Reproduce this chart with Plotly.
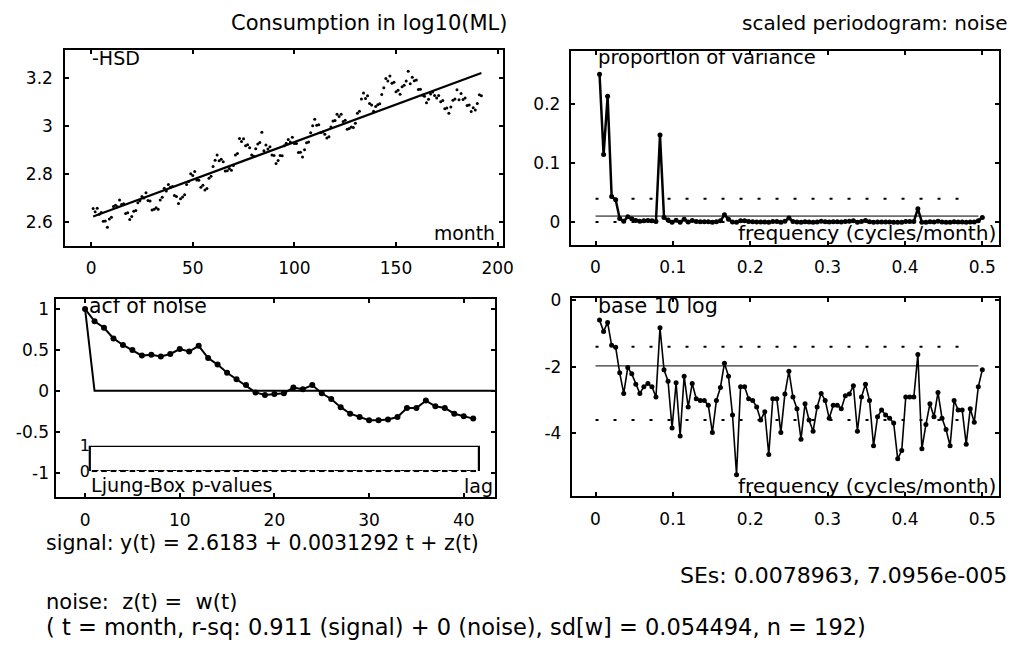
import plotly.graph_objects as go

W, H = 1020, 648

# ---------------- data ----------------
months = list(range(1, 193))
consumption = [
    2.655, 2.641, 2.656, 2.631, 2.638, 2.602, 2.603, 2.577, 2.611, 2.618, 2.663, 2.668,
    2.662, 2.690, 2.671, 2.674, 2.634, 2.637, 2.609, 2.621, 2.643, 2.646, 2.679, 2.687,
    2.705, 2.698, 2.720, 2.688, 2.686, 2.648, 2.651, 2.658, 2.651, 2.690, 2.702, 2.739,
    2.728, 2.755, 2.743, 2.746, 2.709, 2.705, 2.675, 2.695, 2.703, 2.712, 2.755, 2.767,
    2.799, 2.792, 2.809, 2.773, 2.772, 2.743, 2.751, 2.732, 2.738, 2.781, 2.789, 2.830,
    2.856, 2.878, 2.854, 2.860, 2.849, 2.811, 2.812, 2.821, 2.814, 2.834, 2.878, 2.884,
    2.946, 2.934, 2.945, 2.916, 2.920, 2.908, 2.878, 2.872, 2.904, 2.923, 2.930, 2.972,
    2.895, 2.919, 2.903, 2.912, 2.878, 2.875, 2.842, 2.855, 2.875, 2.874, 2.916, 2.926,
    2.942, 2.932, 2.951, 2.925, 2.925, 2.888, 2.889, 2.869, 2.899, 2.929, 2.932, 2.970,
    2.999, 3.026, 3.001, 3.004, 2.971, 2.973, 2.964, 2.948, 2.954, 2.994, 3.019, 3.021,
    3.047, 3.038, 3.047, 3.017, 3.022, 2.985, 2.988, 2.994, 2.992, 3.010, 3.051, 3.060,
    3.111, 3.136, 3.113, 3.124, 3.092, 3.086, 3.060, 3.080, 3.087, 3.091, 3.130, 3.158,
    3.196, 3.186, 3.207, 3.177, 3.181, 3.141, 3.147, 3.131, 3.162, 3.168, 3.186, 3.226,
    3.174, 3.202, 3.187, 3.190, 3.150, 3.152, 3.126, 3.122, 3.095, 3.110, 3.132, 3.140,
    3.125, 3.115, 3.125, 3.099, 3.105, 3.070, 3.073, 3.051, 3.078, 3.106, 3.111, 3.149,
    3.108, 3.134, 3.109, 3.115, 3.084, 3.086, 3.059, 3.074, 3.065, 3.092, 3.129, 3.124,
]
fit_intercept = 2.6183
fit_slope = 0.0031292
fit_months = [1, 192]

# periodogram of the noise (base-10 log of proportion of variance), k/192 cycles/month
harmonics = list(range(1, 97))
log_pgram = [
    -0.60, -0.94, -0.67, -1.36, -1.42, -2.19, -2.81, -2.03, -2.22, -2.53, -2.81, -2.61,
    -2.51, -2.61, -2.92, -0.83, -2.10, -2.44, -3.85, -2.49, -4.09, -2.29, -3.22, -2.51,
    -2.97, -3.02, -3.02, -3.17, -3.99, -3.02, -2.63, -1.90, -2.29, -3.46, -5.26, -2.61,
    -2.61, -2.97, -3.02, -3.22, -3.61, -3.36, -4.65, -2.97, -2.97, -3.99, -2.83, -2.14,
    -2.92, -3.27, -4.19, -3.12, -3.61, -3.95, -3.22, -2.81, -3.02, -3.56, -3.17, -3.17,
    -3.27, -2.88, -2.83, -2.58, -3.95, -2.92, -2.53, -3.02, -4.39, -3.51, -3.31, -3.46,
    -3.56, -3.70, -4.78, -4.53, -2.92, -2.92, -2.92, -1.64, -4.48, -3.75, -3.12, -3.51,
    -2.78, -3.56, -3.90, -4.39, -3.02, -3.31, -3.31, -4.34, -3.27, -3.68, -2.61, -2.10,
]
band_upper_log = -1.40
band_mean_log = -1.98
band_lower_log = -3.61
band_freqs_dotted = [0.0, 0.484]
band_freqs_solid = [0.0, 0.495]

# acf of noise
lags = list(range(0, 42))
acf = [
    1.00, 0.85, 0.77, 0.64, 0.56, 0.50, 0.43, 0.44, 0.42, 0.45, 0.51, 0.48,
    0.55, 0.40, 0.32, 0.22, 0.14, 0.07, -0.02, -0.05, -0.04, -0.03, 0.04, 0.02,
    0.07, -0.03, -0.10, -0.20, -0.28, -0.32, -0.36, -0.36, -0.35, -0.32, -0.21, -0.21,
    -0.12, -0.19, -0.21, -0.28, -0.31, -0.34,
]
white_lags = [0, 1, 44]
white_acf = [1, 0, 0]
lb_lags = list(range(1, 42))
lb_pvalues = [0.0, 0.0, 0.0, 0.0, 0.0, 0.0, 0.0, 0.0, 0.0, 0.0, 0.0, 0.0, 0.0, 0.0,
              0.0, 0.0, 0.0, 0.0, 0.0, 0.0, 0.0, 0.0, 0.0, 0.0, 0.0, 0.0, 0.0, 0.0,
              0.0, 0.0, 0.0, 0.0, 0.0, 0.0, 0.0, 0.0, 0.0, 0.0, 0.0, 0.0, 0.0]

freqs = [k / 192 for k in harmonics]
prop_var = [10 ** v for v in log_pgram]
fit_values = [fit_intercept + fit_slope * t for t in fit_months]

# ---------------- figure ----------------
FONT = "DejaVu Sans"
BLACK = "#000000"
DOTS = "3px,15px"


def px(x):
    return x / W


def py(y):
    return 1 - y / H


fig = go.Figure()

# top-left: series + fitted trend
fig.add_trace(go.Scatter(x=months, y=consumption, mode="markers",
                         marker=dict(size=3, color=BLACK), xaxis="x", yaxis="y",
                         showlegend=False, hoverinfo="skip"))
fig.add_trace(go.Scatter(x=fit_months, y=fit_values, mode="lines",
                         line=dict(color=BLACK, width=2.2), xaxis="x", yaxis="y",
                         showlegend=False))


def bands(xa, ya, transform):
    for lvl, xs, dash, wd in [(band_upper_log, band_freqs_dotted, DOTS, 2),
                              (band_mean_log, band_freqs_solid, "solid", 1.0),
                              (band_lower_log, band_freqs_dotted, DOTS, 2)]:
        v = transform(lvl)
        fig.add_trace(go.Scatter(x=xs, y=[v, v], mode="lines",
                                 line=dict(color=BLACK, width=wd, dash=dash),
                                 xaxis=xa, yaxis=ya, showlegend=False))


# top-right: proportion of variance
bands("x2", "y2", lambda v: 10 ** v)
fig.add_trace(go.Scatter(x=freqs, y=prop_var, mode="lines+markers",
                         line=dict(color=BLACK, width=2.5),
                         marker=dict(size=5, color=BLACK), xaxis="x2", yaxis="y2",
                         showlegend=False))

# bottom-left: acf + Ljung-Box p-values
fig.add_trace(go.Scatter(x=white_lags, y=white_acf, mode="lines",
                         line=dict(color=BLACK, width=2), xaxis="x3", yaxis="y3",
                         showlegend=False))
fig.add_trace(go.Scatter(x=lags, y=acf, mode="lines+markers",
                         line=dict(color=BLACK, width=2),
                         marker=dict(size=6, color=BLACK), xaxis="x3", yaxis="y3",
                         showlegend=False))
fig.add_trace(go.Scatter(x=lb_lags, y=lb_pvalues, mode="lines+markers",
                         line=dict(color=BLACK, width=2, dash="4px,2px"),
                         marker=dict(size=4, color=BLACK, symbol="line-ew",
                                     line=dict(width=2, color=BLACK)),
                         xaxis="x3", yaxis="y5", showlegend=False, cliponaxis=False))

# bottom-right: log periodogram
bands("x4", "y4", lambda v: v)
fig.add_trace(go.Scatter(x=freqs, y=log_pgram, mode="lines+markers",
                         line=dict(color=BLACK, width=1.6),
                         marker=dict(size=5, color=BLACK), xaxis="x4", yaxis="y4",
                         showlegend=False))

tick_font = dict(family=FONT, size=17, color=BLACK)
axis_common = dict(showline=True, linecolor=BLACK, linewidth=2, mirror="ticks",
                   ticks="inside", ticklen=4, tickwidth=1.5, tickcolor=BLACK,
                   showgrid=False, zeroline=False, tickfont=tick_font)
xcommon = dict(axis_common, ticklabelstandoff=6)

fig.update_layout(
    width=W, height=H, margin=dict(l=0, r=0, t=0, b=0),
    paper_bgcolor="white", plot_bgcolor="white", showlegend=False,
    xaxis=dict(xcommon, domain=[px(66), px(508)], range=[-12.7, 202.4],
               tickvals=[0, 50, 100, 150, 200], anchor="y"),
    yaxis=dict(axis_common, ticklabelstandoff=7, domain=[py(244), py(42)],
               range=[2.499, 3.316], tickvals=[2.6, 2.8, 3.0, 3.2],
               ticktext=["2.6", "2.8", "3", "3.2"], anchor="x"),
    xaxis2=dict(xcommon, domain=[px(577), px(1010)], range=[-0.032, 0.5217],
                tickvals=[0, 0.1, 0.2, 0.3, 0.4, 0.5],
                ticktext=["0", "0.1", "0.2", "0.3", "0.4", "0.5"], anchor="y2"),
    yaxis2=dict(axis_common, ticklabelstandoff=5, domain=[py(243), py(43)],
                range=[-0.0384, 0.291], tickvals=[0, 0.1, 0.2],
                ticktext=["0", "0.1", "0.2"], anchor="x2"),
    xaxis3=dict(xcommon, domain=[px(57), px(500)], range=[-3.03, 43.26],
                tickvals=[0, 10, 20, 30, 40], anchor="y3"),
    yaxis3=dict(axis_common, ticklabelstandoff=2, domain=[py(503), py(299)],
                range=[-1.301, 1.119], tickvals=[-1, -0.5, 0, 0.5, 1],
                ticktext=["-1", "-0.5", "0", "0.5", "1"], anchor="x3"),
    xaxis4=dict(xcommon, domain=[px(578), px(1010)], range=[-0.0307, 0.5217],
                tickvals=[0, 0.1, 0.2, 0.3, 0.4, 0.5],
                ticktext=["0", "0.1", "0.2", "0.3", "0.4", "0.5"], anchor="y4"),
    yaxis4=dict(axis_common, ticklabelstandoff=5, domain=[py(502), py(298)],
                range=[-5.91, 0.0585], tickvals=[-4, -2, 0],
                ticktext=["-4", "-2", "0"], anchor="x4"),
    yaxis5=dict(domain=[py(476), py(450)], range=[0, 1], anchor="free",
                position=px(91), showline=False, showgrid=False, zeroline=False,
                ticks="", tickvals=[0, 1], ticktext=["0", "1"],
                tickfont=dict(family=FONT, size=16, color=BLACK)),
)

# Ljung-Box inner frame
fig.add_shape(type="path", xref="x3", yref="y5",
              path="M 0.5,0 L 0.5,1 L 41.6,1 L 41.6,0",
              line=dict(color=BLACK, width=2.2))


def label(text, x, y, xanchor="left", size=20):
    fig.add_annotation(text=text, x=px(x), y=py(y), xref="paper", yref="paper",
                       xanchor=xanchor, yanchor="middle", showarrow=False,
                       borderpad=0, font=dict(family=FONT, size=size, color=BLACK))


label("Consumption in log10(ML)", 515, 14, "right", 21)
label("scaled periodogram: noise", 1019, 14, "right", 20)
label("-HSD", 92, 50, "left", 19)
label("month", 501, 231, "right", 18.8)
label("proportion of variance", 604, 50, "left", 19.6)
label("frequency (cycles/month)", 1008, 231, "right", 20.2)
label("acf of noise", 89, 306, "left", 20.4)
label("Ljung-Box p-values", 91, 491, "left", 19.2)
label("lag", 499, 491, "right", 19)
label("base 10 log", 604, 306, "left", 20.6)
label("frequency (cycles/month)", 1008, 491, "right", 20.2)
label("signal: y(t) = 2.6183 + 0.0031292 t + z(t)", 45, 550, "left", 20.5)
label("SEs: 0.0078963, 7.0956e-005", 1019, 584, "right", 22)
label("noise:  z(t) =  w(t)", 45, 611, "left", 21)
label("( t = month, r-sq: 0.911 (signal) + 0 (noise), sd[w] = 0.054494, n = 192)",
      45, 637, "left", 22.5)

fig.write_html("out.html")
